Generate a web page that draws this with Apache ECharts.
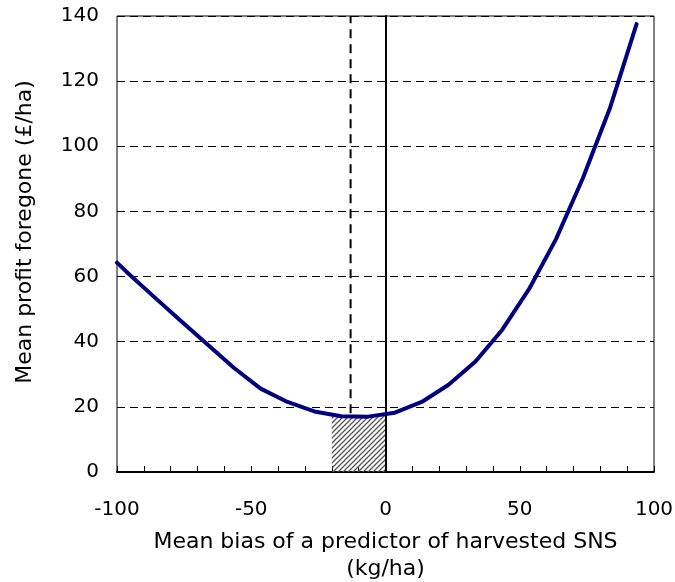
<!DOCTYPE html>
<html>
<head>
<meta charset="utf-8">
<script src="https://cdn.jsdelivr.net/npm/echarts@6/dist/echarts.min.js"></script>
<style>
html,body{margin:0;padding:0;background:#fff;}
#chart{width:675px;height:582px;}
</style>
</head>
<body>
<div id="chart"></div>
<script>
// Data
var biasValues = [-100, -96.5, -86.5, -76.5, -66.5, -56.5, -46.5, -36.5, -26.5, -16.5, -6.5, 3.5, 13.5, 23.5, 33.5, 43.5, 53.5, 63.5, 73.5, 83.5, 93.5];
var profitForegone = [64.3, 61.5, 54.0, 46.6, 39.3, 32.0, 25.6, 21.5, 18.6, 17.1, 17.0, 18.2, 21.5, 26.8, 33.9, 43.7, 56.2, 71.5, 90.2, 111.5, 137.5];
var optimumBias = -13;           // dashed vertical line
var optimumLineRange = [18, 140];
var hatchRange = [-20, 0];       // shaded region under curve
var xTicks = [-100, -50, 0, 50, 100];
var yTicks = [0, 20, 40, 60, 80, 100, 120, 140];

var FONT = 'DejaVu Sans';

function interp(x) {
  for (var i = 0; i < biasValues.length - 1; i++) {
    if (x >= biasValues[i] && x <= biasValues[i + 1]) {
      var t = (x - biasValues[i]) / (biasValues[i + 1] - biasValues[i]);
      return profitForegone[i] + t * (profitForegone[i + 1] - profitForegone[i]);
    }
  }
  return null;
}

var curveData = biasValues.map(function (x, i) { return [x, profitForegone[i]]; });
var hatchData = [[hatchRange[0], interp(hatchRange[0])]];
biasValues.forEach(function (x, i) {
  if (x > hatchRange[0] && x < hatchRange[1]) hatchData.push([x, profitForegone[i]]);
});
hatchData.push([hatchRange[1], interp(hatchRange[1])]);

// hatch pattern
var pc = document.createElement('canvas');
pc.width = 5; pc.height = 5;
var g = pc.getContext('2d');
g.strokeStyle = '#555';
g.lineWidth = 1.3;
g.beginPath();
g.moveTo(-1, 6); g.lineTo(6, -1);
g.moveTo(-1, 1); g.lineTo(1, -1);
g.moveTo(4, 6); g.lineTo(6, 4);
g.stroke();

var chart = echarts.init(document.getElementById('chart'), null, {renderer: 'canvas'});
chart.setOption({
  animation: false,
  backgroundColor: '#fff',
  grid: {left: 117, right: 21, top: 16, bottom: 110, containLabel: false, outerBoundsMode: 'none',
         show: true, borderColor: '#000', borderWidth: 1, backgroundColor: 'transparent'},
  xAxis: {
    type: 'value', min: -100, max: 100, interval: 10,
    name: 'Mean bias of a predictor of harvested SNS\n(kg/ha)',
    nameLocation: 'middle', nameGap: 57,
    nameTextStyle: {fontFamily: FONT, fontSize: 22, color: '#000', lineHeight: 27},
    axisLine: {onZero: false, lineStyle: {color: '#000', width: 2}},
    axisTick: {inside: true, length: 6, lineStyle: {color: '#000', width: 1}},
    axisLabel: {
      fontFamily: FONT, fontSize: 20, color: '#000', margin: 28,
      formatter: function (v) { return xTicks.indexOf(v) >= 0 ? String(v) : ''; }
    },
    splitLine: {show: false}
  },
  yAxis: {
    type: 'value', min: 0, max: 140, interval: 20,
    name: 'Mean profit foregone (£/ha)',
    nameLocation: 'middle', nameGap: 81,
    nameTextStyle: {fontFamily: FONT, fontSize: 22, color: '#000', padding: [0, 0, 0, 24]},
    axisLine: {lineStyle: {color: '#000', width: 2}},
    axisTick: {show: false},
    axisLabel: {
      fontFamily: FONT, fontSize: 20, color: '#000', margin: 18,
      formatter: function (v) { return yTicks.indexOf(v) >= 0 ? String(v) : ''; }
    },
    splitLine: {show: true, lineStyle: {color: '#000', width: 1, type: [8, 5]}}
  },
  series: [
    {
      type: 'line', data: hatchData, symbol: 'none', silent: true,
      lineStyle: {width: 0, opacity: 0},
      areaStyle: {color: {image: pc, repeat: 'repeat'}, opacity: 1},
      z: 1
    },
    {
      type: 'line', data: [[0, 0], [0, 140]], symbol: 'none', silent: true,
      lineStyle: {color: '#000', width: 1}, z: 2
    },
    {
      type: 'line', data: [[optimumBias, optimumLineRange[0]], [optimumBias, optimumLineRange[1]]],
      symbol: 'none', silent: true,
      lineStyle: {color: '#000', width: 2, type: [9, 6]}, z: 3
    },
    {
      type: 'line', data: curveData, symbol: 'none', silent: true,
      lineStyle: {color: '#000080', width: 4, join: 'round', cap: 'round'}, z: 4
    }
  ]
});
</script>
</body>
</html>
